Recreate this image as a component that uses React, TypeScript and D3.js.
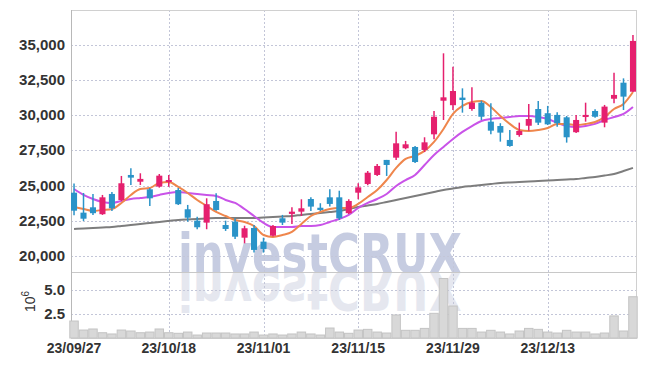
import React, { useRef, useEffect } from "react";
import * as d3 from "d3";

const dates = [
  "23/09/27", "23/10/04", "23/10/05", "23/10/06", "23/10/10", "23/10/11", "23/10/12", "23/10/13", "23/10/16", "23/10/17",
  "23/10/18", "23/10/19", "23/10/20", "23/10/23", "23/10/24", "23/10/25", "23/10/26", "23/10/27", "23/10/30", "23/10/31",
  "23/11/01", "23/11/02", "23/11/03", "23/11/06", "23/11/07", "23/11/08", "23/11/09", "23/11/10", "23/11/13", "23/11/14",
  "23/11/15", "23/11/16", "23/11/17", "23/11/20", "23/11/21", "23/11/22", "23/11/23", "23/11/24", "23/11/27", "23/11/28",
  "23/11/29", "23/11/30", "23/12/01", "23/12/04", "23/12/05", "23/12/06", "23/12/07", "23/12/08", "23/12/11", "23/12/12",
  "23/12/13", "23/12/14", "23/12/15", "23/12/18", "23/12/19", "23/12/20", "23/12/21", "23/12/22", "23/12/26", "23/12/27",
];

const open = [
  24500, 23080, 23460, 22970, 24410, 23980, 25760, 25280, 24740, 24930,
  25260, 24690, 23320, 22510, 22370, 23910, 22200, 22440, 21300, 21990,
  21020, 21440, 22680, 22990, 23150, 24050, 23430, 24170, 24170, 23040,
  24500, 25120, 25760, 26830, 26990, 27660, 27750, 27540, 28650, 31040,
  30720, 31260, 30450, 30900, 29550, 29240, 28250, 28600, 29260, 30450,
  30150, 30030, 29860, 28800, 29880, 30310, 29480, 31180, 32320, 31680,
];
const high = [
  25150, 24480, 24410, 24340, 24550, 25690, 26240, 25880, 24840, 25830,
  25760, 24840, 23630, 22790, 24100, 24460, 22510, 22680, 22150, 22200,
  21300, 22200, 22920, 23460, 24030, 24170, 23750, 24740, 24640, 24030,
  25170, 26040, 26540, 26830, 28840, 28180, 27820, 28440, 30310, 34410,
  33460, 31920, 32000, 31040, 30860, 29440, 28960, 29480, 30810, 31020,
  30670, 30220, 29950, 30030, 30900, 30430, 30740, 33030, 32630, 35710,
];
const low = [
  22900, 22490, 22920, 22920, 23200, 23910, 25050, 25050, 23560, 24860,
  24930, 23630, 22440, 21900, 21900, 23220, 21780, 21210, 20900, 20240,
  20240, 21390, 22200, 22280, 22840, 23200, 23200, 23510, 22560, 22990,
  24030, 25030, 25690, 25690, 26830, 27590, 26610, 27390, 28300, 29670,
  30380, 30190, 30330, 29670, 28650, 28130, 27770, 28480, 28910, 29310,
  29310, 29190, 28060, 28750, 29550, 29830, 29150, 30860, 30380, 31660,
];
const close = [
  23220, 22650, 23040, 24170, 23390, 25170, 25570, 25480, 24100, 25710,
  25400, 23680, 22720, 22040, 23680, 23270, 21920, 21370, 21970, 20430,
  20500, 22130, 22370, 23150, 23390, 23510, 23270, 23700, 22680, 23910,
  24880, 25920, 26400, 26470, 28010, 27940, 26680, 28080, 29900, 31280,
  31730, 31090, 30900, 29900, 28910, 28770, 27820, 28890, 29740, 29480,
  29360, 29440, 28440, 29670, 30030, 29900, 30620, 31450, 31330, 35290,
];

// moving averages
const ma5 = [
  23480, 23340, 23200, 23270, 23340, 23770, 24340, 24760, 24830, 25190,
  25260, 24910, 24480, 23980, 23560, 23130, 22840, 22560, 22420, 22130,
  21490, 21350, 21490, 21710, 22280, 22840, 23130, 23340, 23410, 23410,
  23700, 24190, 24690, 25400, 26260, 26900, 27110, 27470, 28110, 29030,
  30100, 30670, 30950, 31020, 30590, 29950, 29390, 28960, 28890, 28960,
  29100, 29390, 29390, 29310, 29390, 29530, 29880, 30450, 30810, 31660,
];
const ma20 = [
  24760, 24340, 24050, 23840, 23770, 23910, 24050, 24120, 24190, 24340,
  24480, 24550, 24480, 24410, 24340, 24270, 23980, 23770, 23340, 22840,
  22350, 22060, 22060, 22060, 22130, 22130, 22200, 22420, 22630, 22920,
  23410, 23770, 24050, 24410, 24980, 25400, 25760, 26470, 27180, 27750,
  28320, 28820, 29240, 29600, 29740, 29810, 29880, 29950, 29950, 29880,
  29740, 29460, 29240, 29170, 29240, 29390, 29670, 29880, 30100, 30590,
];
const ma60 = [
  21920, 21960, 21990, 22030, 22060, 22130, 22200, 22280, 22350, 22420,
  22490, 22560, 22600, 22630, 22670, 22700, 22700, 22700, 22700, 22700,
  22740, 22770, 22810, 22840, 22920, 22990, 23060, 23130, 23200, 23340,
  23480, 23590, 23700, 23840, 23980, 24120, 24270, 24410, 24550, 24690,
  24800, 24910, 24980, 25050, 25120, 25190, 25230, 25260, 25300, 25330,
  25370, 25400, 25440, 25470, 25550, 25620, 25720, 25830, 26040, 26260,
];

const volume = [
  1770000, 830000, 940000, 550000, 420000, 830000, 730000, 550000, 620000, 940000,
  550000, 490000, 620000, 310000, 520000, 520000, 520000, 420000, 420000, 620000,
  310000, 420000, 310000, 420000, 620000, 420000, 310000, 1040000, 620000, 490000,
  830000, 900000, 620000, 520000, 2400000, 800000, 800000, 1000000, 2570000, 6200000,
  3330000, 1000000, 1000000, 620000, 800000, 620000, 420000, 730000, 1000000, 900000,
  620000, 520000, 800000, 620000, 620000, 420000, 520000, 2300000, 730000, 4300000,
];

const priceTicks = [20000, 22500, 25000, 27500, 30000, 32500, 35000];
const volumeTicks = [2500000, 5000000];
const dateTicks = ["23/09/27", "23/10/18", "23/11/01", "23/11/15", "23/11/29", "23/12/13"];

const UP = "#e5206e";
const DOWN = "#2a93c8";
const font = "'Liberation Sans Narrow', 'Liberation Sans', sans-serif";
const markFont = "'DejaVu Sans Condensed', 'DejaVu Sans', sans-serif";

const CandleChart = () => {
  const svgRef = useRef(null);

  useEffect(() => {
    const left = 71, right = 636;
    const top = 10, split = 272, bottom = 338;

    const svg = d3.select(svgRef.current);
    svg.selectAll("*").remove();

    const x = d3.scaleBand().domain(dates).range([left, right]).paddingInner(0.36);
    const cx = (d) => x(d) + x.bandwidth() / 2;
    const y = d3.scaleLinear().domain([18860, 37490]).range([split, top]);
    const yv = d3.scaleLinear().domain([0, 6875000]).range([bottom, split]);

    const defs = svg.append("defs");
    defs.append("clipPath").attr("id", "priceClip")
      .append("rect").attr("x", left).attr("y", top).attr("width", right - left).attr("height", split - top);
    defs.append("clipPath").attr("id", "volClip")
      .append("rect").attr("x", left).attr("y", split).attr("width", right - left).attr("height", bottom - split);

    // watermark + reflection
    svg.append("g").attr("clip-path", "url(#priceClip)")
      .append("text")
      .attr("x", 178).attr("y", 273)
      .attr("textLength", 284).attr("lengthAdjust", "spacingAndGlyphs")
      .attr("font-family", markFont).attr("font-weight", "bold").attr("font-size", 56)
      .attr("fill", "#c6cce1")
      .text("investCRUX");
    svg.append("g").attr("clip-path", "url(#volClip)")
      .append("text")
      .attr("transform", `translate(0,${2 * 272}) scale(1,-1)`)
      .attr("x", 178).attr("y", 273)
      .attr("textLength", 284).attr("lengthAdjust", "spacingAndGlyphs")
      .attr("font-family", markFont).attr("font-weight", "bold").attr("font-size", 56)
      .attr("fill", "#e5e7ef")
      .text("investCRUX");

    // grid
    const grid = svg.append("g").attr("stroke", "#c3c6d8").attr("stroke-dasharray", "2,2").attr("stroke-width", 1);
    priceTicks.forEach((t) => {
      grid.append("line").attr("x1", left).attr("x2", right).attr("y1", Math.round(y(t)) + 0.5).attr("y2", Math.round(y(t)) + 0.5);
    });
    volumeTicks.forEach((t) => {
      grid.append("line").attr("x1", left).attr("x2", right).attr("y1", Math.round(yv(t)) + 0.5).attr("y2", Math.round(yv(t)) + 0.5);
    });
    dateTicks.slice(1).forEach((t) => {
      grid.append("line").attr("x1", Math.round(cx(t)) + 0.5).attr("x2", Math.round(cx(t)) + 0.5).attr("y1", top).attr("y2", bottom);
    });

    // frame
    svg.append("rect")
      .attr("x", left + 0.5).attr("y", top + 0.5).attr("width", right - left).attr("height", bottom - top)
      .attr("fill", "none").attr("stroke", "#d0d0d0");
    svg.append("line").attr("x1", left).attr("x2", right).attr("y1", split + 0.5).attr("y2", split + 0.5).attr("stroke", "#c8c8c8");
    svg.append("line").attr("x1", left + 0.5).attr("x2", left + 0.5).attr("y1", top).attr("y2", bottom).attr("stroke", "#b8b8b8");

    // volume
    svg.append("g").selectAll("rect")
      .data(dates)
      .enter()
      .append("rect")
      .attr("x", (d) => x(d) - x.step() * 0.18 + 0.5)
      .attr("y", (d, i) => yv(volume[i]))
      .attr("width", x.step() - 1)
      .attr("height", (d, i) => bottom - yv(volume[i]))
      .attr("fill", "#d8d8d8")
      .attr("stroke", "#c4c4c4")
      .attr("stroke-width", 1);

    // moving averages
    const lineOf = (vals) => d3.line()
      .x((d, i) => cx(dates[i]))
      .y((d) => y(d))
      .curve(d3.curveMonotoneX)(vals);

    [[ma60, "#7d7d7d"], [ma20, "#c953e8"], [ma5, "#ef864c"]].forEach(([vals, color]) => {
      svg.append("path")
        .attr("d", lineOf(vals))
        .attr("fill", "none")
        .attr("stroke", color)
        .attr("stroke-width", 2);
    });

    // candles
    const candles = svg.append("g").selectAll("g")
      .data(dates)
      .enter()
      .append("g");

    candles.append("line")
      .attr("x1", (d) => cx(d)).attr("x2", (d) => cx(d))
      .attr("y1", (d, i) => y(high[i])).attr("y2", (d, i) => y(low[i]))
      .attr("stroke", (d, i) => (close[i] >= open[i] ? UP : DOWN))
      .attr("stroke-width", 1.5);

    candles.append("rect")
      .attr("x", (d) => x(d))
      .attr("width", x.bandwidth())
      .attr("y", (d, i) => y(Math.max(open[i], close[i])))
      .attr("height", (d, i) => Math.max(1.5, Math.abs(y(open[i]) - y(close[i]))))
      .attr("fill", (d, i) => (close[i] >= open[i] ? UP : DOWN));

    // axes labels
    const labels = svg.append("g").attr("font-family", font).attr("font-weight", "bold").attr("fill", "#333");

    priceTicks.forEach((t) => {
      labels.append("text")
        .attr("x", 65).attr("y", y(t) + 5)
        .attr("text-anchor", "end").attr("font-size", 15)
        .text(d3.format(",")(t));
    });
    volumeTicks.forEach((t) => {
      labels.append("text")
        .attr("x", 65).attr("y", yv(t) + 5)
        .attr("text-anchor", "end").attr("font-size", 15)
        .text(d3.format(".1f")(t / 1e6));
    });
    dateTicks.forEach((t) => {
      labels.append("text")
        .attr("x", cx(t)).attr("y", 353)
        .attr("text-anchor", "middle").attr("font-size", 14)
        .text(t);
    });

    const unit = labels.append("text")
      .attr("transform", "translate(35,312) rotate(-90)")
      .attr("font-size", 14).attr("font-weight", "normal");
    unit.append("tspan").text("10");
    unit.append("tspan").attr("dy", -6).attr("font-size", 10).text("6");
  }, []);

  return (
    <svg ref={svgRef} width={645} height={366} style={{ position: "absolute", left: 0, top: 0, background: "#fff" }} />
  );
};

export default function App() {
  return <CandleChart />;
}
